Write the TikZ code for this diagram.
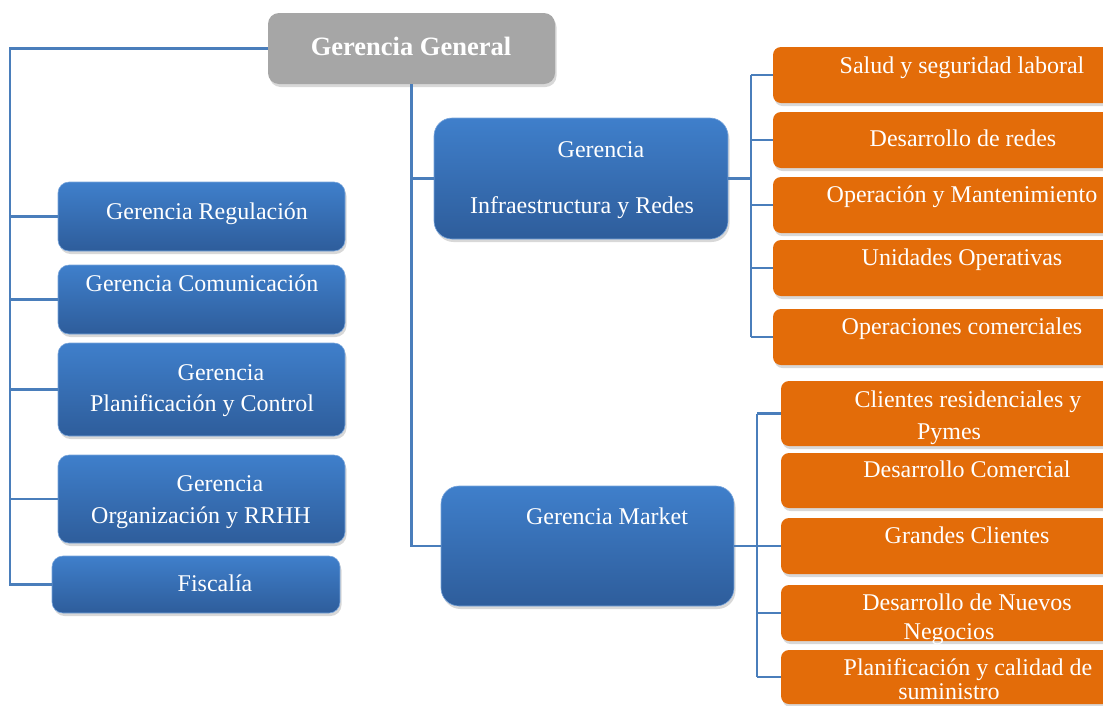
\documentclass[tikz,border=0pt]{standalone}
\usepackage{fontspec}
\setmainfont{Liberation Serif}
\usetikzlibrary{shadows}
\definecolor{conncol}{HTML}{4A7EBB}
\definecolor{bluetop}{HTML}{3F7FCB}
\definecolor{bluebot}{HTML}{2E5D9B}
\definecolor{orng}{HTML}{E36C09}
\definecolor{gry}{HTML}{A6A6A6}
\begin{document}
\begin{tikzpicture}[x=1pt,y=-1pt,
  connector/.style={draw=conncol, line width=2.2pt},
  boxbase/.style={rounded corners=11pt, inner sep=0pt,
    drop shadow={opacity=0.3, shadow xshift=1.5pt, shadow yshift=-3pt}},
  bluebox/.style={boxbase, top color=bluetop, bottom color=bluebot, draw=bluetop!70!white, line width=0.6pt},
  orangebox/.style={boxbase, rounded corners=8pt, fill=orng},
  graybox/.style={boxbase, fill=gry},
  txt/.style={text=white, font=\fontsize{24}{28}\selectfont, inner sep=0pt, anchor=base},
  boldtxt/.style={text=white, font=\fontsize{26.5}{30}\selectfont\bfseries, inner sep=0pt, anchor=base}
]
\useasboundingbox (0,0) rectangle (1103,705);
\fill[white] (0,0) rectangle (1103,705);
\clip (0,0) rectangle (1103,705);

% boxes
\node[graybox, minimum width=287pt, minimum height=71pt] (gg) at (411.5,48.5) {};
\node[bluebox, minimum width=287pt, minimum height=69pt] (reg) at (201.5,216.5) {};
\node[bluebox, minimum width=287pt, minimum height=69pt] (com) at (201.5,299.5) {};
\node[bluebox, minimum width=287pt, minimum height=93pt] (plan) at (201.5,389.5) {};
\node[bluebox, minimum width=287pt, minimum height=88pt] (org) at (201.5,499) {};
\node[bluebox, minimum width=288pt, minimum height=57pt] (fisc) at (196,584.5) {};
\node[bluebox, minimum width=294pt, minimum height=121pt, rounded corners=18pt] (infra) at (581,178.5) {};
\node[bluebox, minimum width=293pt, minimum height=120pt, rounded corners=18pt] (market) at (587.5,546) {};

\node[orangebox, minimum width=347pt, minimum height=56pt] (o1) at (946.5,75) {};
\node[orangebox, minimum width=347pt, minimum height=56pt] (o2) at (946.5,140) {};
\node[orangebox, minimum width=347pt, minimum height=56pt] (o3) at (946.5,205) {};
\node[orangebox, minimum width=347pt, minimum height=56pt] (o4) at (946.5,268) {};
\node[orangebox, minimum width=347pt, minimum height=56pt] (o5) at (946.5,337) {};

\node[orangebox, minimum width=339pt, minimum height=65pt] (m1) at (950.5,413.5) {};
\node[orangebox, minimum width=339pt, minimum height=55pt] (m2) at (950.5,480.5) {};
\node[orangebox, minimum width=339pt, minimum height=56pt] (m3) at (950.5,546) {};
\node[orangebox, minimum width=339pt, minimum height=56pt] (m4) at (950.5,613) {};
\node[orangebox, minimum width=339pt, minimum height=54pt] (m5) at (950.5,677) {};

% connectors
\coordinate (lbus) at (10,48.5);
\draw[connector] (gg.west) -- (lbus) |- (fisc.west);
\draw[connector] (lbus |- reg.west) -- (reg.west);
\draw[connector] (lbus |- com.west) -- (com.west);
\draw[connector] (lbus |- plan.west) -- (plan.west);
\draw[connector] (lbus |- org.west) -- (org.west);

\draw[connector] (gg.south) |- (market.west);
\draw[connector] (gg.south |- infra.west) -- (infra.west);

\coordinate (ibus) at (751,178.5);
\draw[connector] (infra.east) -- (ibus);
\draw[connector] (ibus |- o1.west) -- (ibus |- o5.west);
\foreach \b in {o1,o2,o3,o4,o5} \draw[connector] (ibus |- \b.west) -- (\b.west);

\coordinate (mbus) at (757,546);
\draw[connector] (market.east) -- (mbus);
\draw[connector] (mbus |- m1.west) -- (mbus |- m5.west);
\foreach \b in {m1,m3,m4,m5} \draw[connector] (mbus |- \b.west) -- (\b.west);

% texts
\node[boldtxt] (tgg) at (411,55) {Gerencia General};
\node[txt] (treg) at (207,219) {Gerencia Regulación};
\node[txt] (tcom) at (202,291) {Gerencia Comunicación};
\node[txt] (tplana) at (221,380) {Gerencia};
\node[txt] (tplanb) at (202,411) {Planificación y Control};
\node[txt] (torga) at (220,491) {Gerencia};
\node[txt] (torgb) at (201,523) {Organización y RRHH};
\node[txt] (tfisc) at (215,591) {Fiscalía};
\node[txt] (tinfa) at (601,157) {Gerencia};
\node[txt] (tinfb) at (582,213) {Infraestructura y Redes};
\node[txt] (tmkt) at (607,524) {Gerencia Market};

\node[txt] (to1) at (962,73) {Salud y seguridad laboral};
\node[txt] (to2) at (963,146) {Desarrollo de redes};
\node[txt] (to3) at (962,202) {Operación y Mantenimiento};
\node[txt] (to4) at (962,265) {Unidades Operativas};
\node[txt] (to5) at (962,334) {Operaciones comerciales};

\node[txt] (tm1a) at (968,407) {Clientes residenciales y};
\node[txt] (tm1b) at (949,439) {Pymes};
\node[txt] (tm2) at (967,477) {Desarrollo Comercial};
\node[txt] (tm3) at (967,543) {Grandes Clientes};
\node[txt] (tm4a) at (967,610) {Desarrollo de Nuevos};
\node[txt] (tm4b) at (949,639) {Negocios};
\node[txt] (tm5a) at (968,675) {Planificación y calidad de};
\node[txt] (tm5b) at (949,699) {suministro};
\end{tikzpicture}
\end{document}
